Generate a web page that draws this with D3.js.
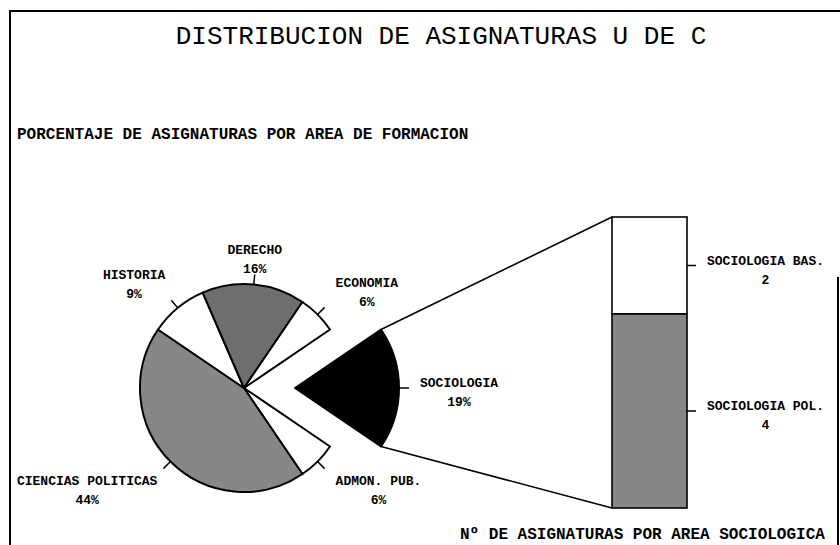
<!DOCTYPE html>
<html>
  <head>
    <title>Distribucion de asignaturas U de C</title>
    <meta charset="UTF-8" />
    <style>
      body { margin: 0; background: #fff; }
      text { font-family: "Courier New", "Liberation Mono", monospace; fill: #000; }
    </style>
  </head>
  <body>
    <script src="https://cdn.jsdelivr.net/npm/d3@7/dist/d3.min.js"></script>
    <script>
      // pie: porcentaje de asignaturas por area (clockwise, sociologia first)
      var areas = ["SOCIOLOGIA", "ADMON. PUB.", "CIENCIAS POLITICAS", "HISTORIA", "DERECHO", "ECONOMIA"];
      var porcentajes = [19, 6, 44, 9, 16, 6];

      // bar: no de asignaturas por area sociologica (top to bottom)
      var subareas = ["SOCIOLOGIA BAS.", "SOCIOLOGIA POL."];
      var asignaturas = [2, 4];

      var fills = {
        "SOCIOLOGIA": "#000",
        "ADMON. PUB.": "#fff",
        "CIENCIAS POLITICAS": "#878787",
        "HISTORIA": "#fff",
        "DERECHO": "#6e6e6e",
        "ECONOMIA": "#fff",
        "SOCIOLOGIA BAS.": "#fff",
        "SOCIOLOGIA POL.": "#868686"
      };

      var width = 840, height = 545;
      var cx = 244, cy = 388, r = 104, explode = 51;
      var lineGap = 19;

      var svg = d3.select("body").append("svg")
                  .attr("width", width)
                  .attr("height", height);

      // frame (scanned page border)
      svg.append("path")
         .attr("d", "M10,545 L10,11 L840,11 M838,277 L838,545")
         .attr("fill", "none")
         .attr("stroke", "#000")
         .attr("stroke-width", 2);

      svg.append("text")
         .attr("x", 441).attr("y", 44)
         .attr("text-anchor", "middle")
         .attr("font-size", "26px")
         .text("DISTRIBUCION DE ASIGNATURAS U DE C");

      svg.append("text")
         .attr("x", 17).attr("y", 139)
         .attr("font-size", "16px")
         .attr("font-weight", "bold")
         .text("PORCENTAJE DE ASIGNATURAS POR AREA DE FORMACION");

      svg.append("text")
         .attr("x", 460).attr("y", 539)
         .attr("font-size", "16px")
         .attr("font-weight", "bold")
         .text("Nº DE ASIGNATURAS POR AREA SOCIOLOGICA");

      // ---- pie ----
      var total = d3.sum(porcentajes);
      var start = Math.PI / 2 - (porcentajes[0] / total) * Math.PI;
      var pieData = d3.pie().sort(null)
                      .startAngle(start)
                      .endAngle(start + 2 * Math.PI)
                      (porcentajes);
      pieData.forEach(function(d, i) { d.name = areas[i]; });

      var arc = d3.arc().innerRadius(0).outerRadius(r);

      function offset(d, i) {
        if (i !== 0) return [0, 0];
        var a = (d.startAngle + d.endAngle) / 2;
        return [explode * Math.sin(a), -explode * Math.cos(a)];
      }

      var pieG = svg.append("g").attr("transform", "translate(" + cx + "," + cy + ")");

      pieG.selectAll("path.slice")
          .data(pieData)
          .enter()
          .append("path")
          .attr("class", "slice")
          .attr("transform", function(d, i) { var o = offset(d, i); return "translate(" + o[0] + "," + o[1] + ")"; })
          .attr("d", arc)
          .attr("fill", function(d) { return fills[d.name]; })
          .attr("stroke", "#000")
          .attr("stroke-width", 2)
          .attr("stroke-linejoin", "round");

      // connectors from exploded slice to the bar
      var yScale = d3.scaleLinear().domain([0, d3.sum(asignaturas)]).range([508, 217]);
      var barX = 612, barW = 75;

      var s0 = pieData[0], o0 = offset(s0, 0);
      var upper = [cx + o0[0] + r * Math.sin(s0.startAngle), cy + o0[1] - r * Math.cos(s0.startAngle)];
      var lower = [cx + o0[0] + r * Math.sin(s0.endAngle), cy + o0[1] - r * Math.cos(s0.endAngle)];
      svg.append("path")
         .attr("d", "M" + upper + "L" + [barX, yScale(d3.sum(asignaturas))] +
                    "M" + lower + "L" + [barX, yScale(0)])
         .attr("fill", "none")
         .attr("stroke", "#000")
         .attr("stroke-width", 1.6);

      // ticks + labels
      function addLabel(lines, tx, ty, hx, vy, size) {
        var g = svg.append("g");
        var texts = g.selectAll("text").data(lines).enter().append("text")
                     .attr("font-size", size + "px")
                     .attr("font-weight", "bold")
                     .attr("text-anchor", "middle")
                     .text(function(d) { return d; });
        var w = 0;
        texts.each(function() { w = Math.max(w, this.getComputedTextLength()); });
        var x = hx > 0 ? tx + 11 + w / 2 : (hx < 0 ? tx - 6 - w / 2 : tx);
        var y1;
        if (vy > 0) y1 = ty - 6 - lineGap;        // above
        else if (vy < 0) y1 = ty + 12;            // below
        else y1 = ty - 5;                         // beside
        texts.attr("x", x)
             .attr("y", function(d, i) { return y1 + i * lineGap; })
             .attr("dy", "0.33em");
      }

      pieData.forEach(function(d, i) {
        var a = (d.startAngle + d.endAngle) / 2;
        var o = offset(d, i);
        var sx = Math.sin(a), sy = -Math.cos(a);
        var p0 = [cx + o[0] + r * sx, cy + o[1] + r * sy];
        var p1 = [cx + o[0] + (r + 10) * sx, cy + o[1] + (r + 10) * sy];
        svg.append("line")
           .attr("x1", p0[0]).attr("y1", p0[1])
           .attr("x2", p1[0]).attr("y2", p1[1])
           .attr("stroke", "#000").attr("stroke-width", 1.5);
        var hx = sx > 0.3 ? 1 : (sx < -0.3 ? -1 : 0);
        var vy = -sy > 0.3 ? 1 : (-sy < -0.3 ? -1 : 0);
        addLabel([d.name, d.value + "%"], p1[0], p1[1], hx, vy, 13);
      });

      // ---- stacked bar ----
      var acc = d3.sum(asignaturas);
      var segs = asignaturas.map(function(v, i) {
        var seg = { name: subareas[i], value: v, top: acc, bottom: acc - v };
        acc -= v;
        return seg;
      });

      svg.selectAll("rect.seg")
         .data(segs)
         .enter()
         .append("rect")
         .attr("class", "seg")
         .attr("x", barX)
         .attr("y", function(d) { return yScale(d.top); })
         .attr("width", barW)
         .attr("height", function(d) { return yScale(d.bottom) - yScale(d.top); })
         .attr("fill", function(d) { return fills[d.name]; })
         .attr("stroke", "#000")
         .attr("stroke-width", 1.6);

      segs.forEach(function(d) {
        var ym = yScale((d.top + d.bottom) / 2);
        svg.append("line")
           .attr("x1", barX + barW).attr("y1", ym)
           .attr("x2", barX + barW + 9).attr("y2", ym)
           .attr("stroke", "#000").attr("stroke-width", 1.5);
        addLabel([d.name, String(d.value)], barX + barW + 9, ym, 1, 0, 13);
      });
    </script>
  </body>
</html>
